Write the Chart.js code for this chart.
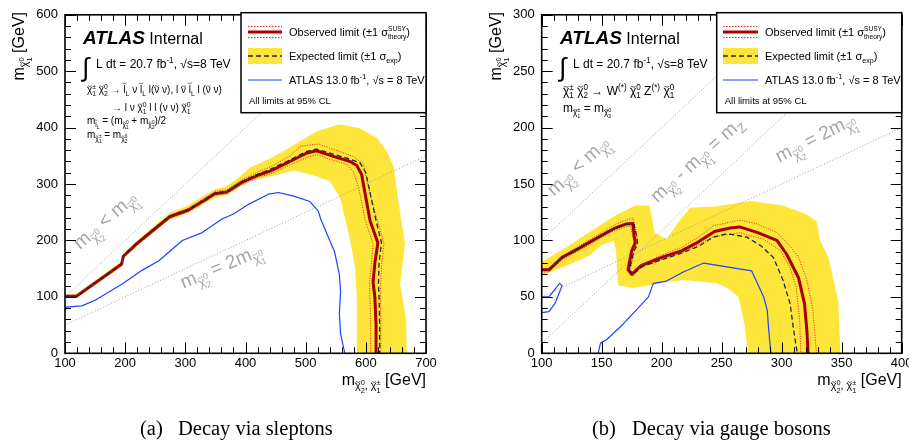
<!DOCTYPE html>
<html><head><meta charset="utf-8">
<script src="https://cdn.jsdelivr.net/npm/chart.js@4.4.1/dist/chart.umd.min.js"></script>
<style>
html,body{margin:0;padding:0;background:#fff;overflow:hidden;width:909px;height:442px}
canvas{position:absolute;top:0}
#cL{left:0}
#cR{left:450px}
</style></head><body>
<canvas id="cL" width="450" height="442"></canvas>
<canvas id="cR" width="475" height="442"></canvas>
<script>
// ---------------- DATA: (a) decay via sleptons ----------------
const slepXTicks = [100, 200, 300, 400, 500, 600, 700];
const slepYTicks = [0, 100, 200, 300, 400, 500, 600];
const slepObserved = [[100,101],[119,101],[194,158],[197,172],[219,194],[252,223],[274,242],[305,254],[330,270],[349,283],[369,286],[394,303],[424,317],[441,323],[474,340],[502,355],[518,359],[546,349],[574,340],[585,333],[593,317],[599,282],[607,235],[620,196],[615,160],[612,126],[615,100],[617,50],[617,0]];
const slepExpected = [[100,101],[119,101],[194,159],[197,173],[219,195],[252,224],[274,243],[305,255],[330,271],[349,284],[369,287],[394,305],[424,319],[441,326],[474,343],[502,358],[518,362],[546,353],[574,344],[590,338],[600,320],[607,285],[617,235],[626,196],[622,160],[621,124],[622,100],[623,50],[623,0]];
const slepTheoryUp = [[100,103],[119,103],[194,161],[197,175],[219,197],[252,226],[274,245],[305,257],[330,274],[349,287],[369,290],[394,308],[424,323],[441,330],[474,350],[491,367],[521,371],[550,360],[579,349],[596,335],[601,311],[610,270],[626,211],[630,194],[626,153],[624,106],[625,50],[625,0]];
const slepTheoryDown = [[100,99],[119,99],[194,156],[197,170],[219,191],[252,220],[274,239],[305,251],[330,267],[349,280],[369,283],[394,299],[424,313],[441,318],[474,334],[502,347],[518,352],[546,342],[568,335],[579,323],[588,294],[599,236],[612,194],[606,123],[608,59],[608,0]];
const slepBandOuter = [[100,104],[119,105],[194,163],[197,177],[219,199],[252,229],[274,249],[305,262],[330,279],[349,291],[369,296],[394,316],[407,329],[440,345],[463,358],[518,393],[556,406],[590,399],[618,382],[635,358],[646,331],[654,270],[665,194],[657,123],[667,59],[668,0]];
const slepBandInner = [[585,0],[585,94],[582,153],[574,200],[565,241],[557,276],[540,305],[518,314],[480,324],[441,314],[407,305],[394,297],[369,280],[349,276],[330,264],[305,249],[274,237],[252,218],[219,189],[197,168],[194,154],[119,98],[100,98]];
const slepAtlas13 = [[100,77],[101,82],[128,84],[150,94],[195,123],[228,147],[256,164],[295,200],[328,214],[361,238],[380,247],[405,264],[438,282],[455,285],[479,279],[507,269],[521,252],[525,238],[538,205],[548,180],[556,140],[558,110],[556,70],[558,35],[562,15],[565,0]];
const slepDiagLess = [[100,100],[600,600]];      // m(chi2) = m(chi1)
const slepDiagTwice = [[100,50],[700,350]];      // m(chi2) = 2 m(chi1)

// ---------------- DATA: (b) decay via gauge bosons ----------------
const gaugeXTicks = [100, 150, 200, 250, 300, 350, 400];
const gaugeYTicks = [0, 50, 100, 150, 200, 250, 300];
const gaugeObserved = [[100,74],[106,74],[117,85],[131,93],[144,101],[161,111],[170,114.5],[176,115],[177,104],[178,98],[175,91],[172,74],[175,70],[183,78],[200,85],[217,91],[231,99],[244,108],[257,111],[265,112],[280,107],[296,100],[304,88],[314,67],[319,44],[321,20],[322,0]];
const gaugeExpected = [[100,74],[106,74],[117,85],[131,93],[144,101],[161,111],[170,114.5],[177,114],[179,104],[180,97],[177,91],[173,74],[176,70],[184,77],[200,83],[217,89],[231,95],[243,103],[254,106],[271,103],[283,95],[293,85],[301,65],[307,44],[310,20],[313,0]];
const gaugeTheoryUp = [[100,75],[106,75],[117,86],[131,95],[144,103],[161,114],[170,118],[176,120],[179,106],[180,98],[177,91],[174,74],[176,68],[184,79],[200,87],[217,94],[232,104],[243,113],[265,118],[279,115],[296,107],[307,95],[314,85],[321,65],[326,38],[329,0]];
const gaugeTheoryDown = [[100,72],[106,72],[117,83],[131,91],[144,99],[161,109],[170,112],[174,113],[176,103],[177,98],[174,91],[171,74],[175,72],[183,76],[200,83],[217,89],[232,97],[243,103],[265,107],[285,101],[299,91],[307,76],[312,59],[315,29],[316,0]];
const gaugeBandOuter = [[100,81],[122,95],[161,122],[178,131],[190,131],[194,107],[204,101],[215,118],[224,129],[245,130],[274,135],[301,131],[321,123],[329,117],[332,100],[339,85],[347,47],[349,0]];
const gaugeBandInner = [[272,0],[269,26],[264,50],[256,57],[246,62],[218,65],[204,63],[190,60],[176,58],[164,60],[163,70],[162,90],[160,100],[150,96],[139,86],[117,76],[100,69]];
const gaugeAtlas13 = [[147,0],[149,9],[154,12],[168,26],[189,50],[193,62],[204,64],[218,72],[235,80],[275,73],[285,50],[288,38],[289,23],[291,0]];
const gaugeAtlas13Island = [[100,50],[106,50],[115,62],[117,60],[111,44],[106,37],[100,36]];
const gaugeDiagLess = [[100,100],[300,300]];     // m(chi2) = m(chi1)
const gaugeDiagZ = [[100,8.81],[391.19,300]];    // m(chi2) - m(chi1) = mZ
const gaugeDiagTwice = [[100,50],[400,200]];     // m(chi2) = 2 m(chi1)

// ---------------- helpers ----------------
const FF = '"Liberation Sans", Helvetica, Arial, sans-serif';
function fnt(size, style) { return (style ? style + ' ' : '') + size + 'px ' + FF; }
function rich(ctx, parts, x, y, size, draw, style) {
  let cx = x;
  for (const p of parts) {
    if (typeof p === 'string') {
      ctx.font = fnt(size, style);
      if (draw) ctx.fillText(p, cx, y);
      cx += ctx.measureText(p).width;
    } else if (p.s !== undefined) {
      const sz = p.size || size;
      ctx.font = fnt(sz, p.style);
      if (draw) ctx.fillText(p.s, cx, y);
      cx += ctx.measureText(p.s).width;
    } else if (p.tl !== undefined) {
      ctx.font = fnt(size, style);
      const w = ctx.measureText(p.tl).width;
      if (draw) {
        ctx.fillText(p.tl, cx, y);
        const tw = Math.max(w * 0.8, size * 0.38), h = size * 0.07;
        const x0 = cx + w / 2 - tw / 2, ty = y - size * (p.th || 0.7);
        ctx.save();
        ctx.strokeStyle = ctx.fillStyle;
        ctx.lineWidth = Math.max(0.55, size * 0.06);
        ctx.beginPath();
        ctx.moveTo(x0, ty + h);
        ctx.bezierCurveTo(x0 + tw * 0.3, ty - 2.2 * h, x0 + tw * 0.7, ty + 3.2 * h, x0 + tw, ty - h);
        ctx.stroke();
        ctx.restore();
      }
      cx += w;
    } else {
      const k = p.k || 0.68;
      let w = 0;
      if (p.sup) w = Math.max(w, rich(ctx, p.sup, cx, y - size * (p.up || 0.42), size * k, draw, style));
      if (p.sub) w = Math.max(w, rich(ctx, p.sub, cx, y + size * (p.dn || 0.28), size * k, draw, style));
      cx += w;
    }
  }
  return cx - x;
}
function drawRich(ctx, parts, x, y, size, opts) {
  opts = opts || {};
  ctx.save();
  ctx.fillStyle = opts.color || '#000';
  ctx.textAlign = 'left';
  ctx.textBaseline = 'alphabetic';
  ctx.translate(x, y);
  if (opts.rot) ctx.rotate(opts.rot * Math.PI / 180);
  let x0 = 0;
  if (opts.align === 'right') x0 = -rich(ctx, parts, 0, 0, size, false);
  rich(ctx, parts, x0, 0, size, true);
  ctx.restore();
}
const CHI = {tl: '\u03C7'}, NUT = {tl: '\u03BD'}, LT = {tl: 'l', th: 0.98};
const chi = (lo, hi) => [CHI, {sub: [lo], sup: [hi]}];
const mchi = (lo, hi) => ['m', {sub: chi(lo, hi)}];

const YELLOW = '#fee53a', OBS = '#a80000', THEO = '#e3241c', EXPC = '#1c2743', BLUE = '#2040ff', DIAG = '#9c9c9c', LBL = '#a6a6a6';

function lineDs(data, color, width, dash, order) {
  return {data, showLine: true, borderColor: color, borderWidth: width, borderDash: dash || [],
    pointRadius: 0, pointHoverRadius: 0, fill: false, tension: 0, order,
    borderJoinStyle: 'round', borderCapStyle: 'butt'};
}

function annotPlugin(o) {
  return {
    id: 'annot',
    beforeDatasetDraw(chart, args) {
      const ds = chart.data.datasets[args.index];
      if (!ds.polyFill) return;
      const {ctx, chartArea: a} = chart;
      const pts = args.meta.data;
      ctx.save();
      ctx.beginPath(); ctx.rect(a.left, a.top, a.right - a.left, a.bottom - a.top); ctx.clip();
      ctx.beginPath();
      pts.forEach((p, i) => i ? ctx.lineTo(p.x, p.y) : ctx.moveTo(p.x, p.y));
      ctx.closePath();
      ctx.fillStyle = ds.polyFill;
      ctx.fill();
      ctx.restore();
    },
    afterDatasetsDraw(chart) {
      const {ctx, chartArea: a, scales: {x, y}} = chart;
      const ox = o.offX;
      for (const L of o.diagLabels) {
        drawRich(ctx, L.parts, x.getPixelForValue(L.at[0]), y.getPixelForValue(L.at[1]), 19, {rot: L.rot, color: LBL});
      }
      ctx.save();
      ctx.strokeStyle = '#000'; ctx.lineWidth = 1;
      ctx.beginPath();
      const nx = Math.round((o.xMax - o.xMin) / o.xMinor);
      for (let i = 0; i <= nx; i++) {
        const v = o.xMin + i * o.xMinor;
        const major = o.xTicks.some(t => Math.abs(t - v) < 1e-6);
        const L = major ? 11 : 6;
        const px = Math.round(x.getPixelForValue(v)) + 0.5;
        ctx.moveTo(px, a.bottom); ctx.lineTo(px, a.bottom - L);
        ctx.moveTo(px, a.top); ctx.lineTo(px, a.top + L);
      }
      const ny = Math.round((o.yMax - o.yMin) / o.yMinor);
      for (let i = 0; i <= ny; i++) {
        const v = o.yMin + i * o.yMinor;
        const major = o.yTicks.some(t => Math.abs(t - v) < 1e-6);
        const L = major ? 11 : 6;
        const py = Math.round(y.getPixelForValue(v)) + 0.5;
        ctx.moveTo(a.left, py); ctx.lineTo(a.left + L, py);
        ctx.moveTo(a.right, py); ctx.lineTo(a.right - L, py);
      }
      ctx.stroke();
      ctx.lineWidth = 1.6;
      ctx.strokeRect(a.left, a.top, a.right - a.left, a.bottom - a.top);
      ctx.restore();

      const lb = o.legend;
      ctx.save();
      ctx.fillStyle = '#fff';
      ctx.fillRect(lb.x0 - ox, lb.y0, lb.x1 - lb.x0, lb.y1 - lb.y0);
      ctx.strokeStyle = '#000'; ctx.lineWidth = 1.5;
      ctx.strokeRect(lb.x0 - ox, lb.y0, lb.x1 - lb.x0, lb.y1 - lb.y0);
      const sx0 = lb.sx0 - ox, sx1 = lb.sx1 - ox;
      ctx.setLineDash([1.5, 1.5]); ctx.strokeStyle = THEO; ctx.lineWidth = 1;
      ctx.beginPath(); ctx.moveTo(sx0, 26.5); ctx.lineTo(sx1, 26.5); ctx.moveTo(sx0, 37.5); ctx.lineTo(sx1, 37.5); ctx.stroke();
      ctx.setLineDash([]); ctx.strokeStyle = OBS; ctx.lineWidth = 3;
      ctx.beginPath(); ctx.moveTo(sx0, 32); ctx.lineTo(sx1, 32); ctx.stroke();
      ctx.fillStyle = YELLOW; ctx.fillRect(sx0, 48, sx1 - sx0, 16);
      ctx.setLineDash([5, 3]); ctx.strokeStyle = EXPC; ctx.lineWidth = 1.3;
      ctx.beginPath(); ctx.moveTo(sx0, 56); ctx.lineTo(sx1, 56); ctx.stroke();
      ctx.setLineDash([]); ctx.strokeStyle = BLUE; ctx.lineWidth = 1.2;
      ctx.beginPath(); ctx.moveTo(sx0, 80); ctx.lineTo(sx1, 80); ctx.stroke();
      ctx.restore();
      const tx = lb.tx - ox;
      drawRich(ctx, ['Observed limit (\u00B11 \u03C3', {sub: ['theory'], sup: ['SUSY'], k: 0.6, up: 0.5, dn: 0.3}, ')'], tx, 36, 11);
      drawRich(ctx, ['Expected limit (\u00B11 \u03C3', {sub: ['exp'], k: 0.65}, ')'], tx, 60, 11);
      drawRich(ctx, ['ATLAS 13.0 fb', {sup: ['-1']}, ', \u221As = 8 TeV'], tx, 84, 11);
      drawRich(ctx, ['All limits at 95% CL'], lb.x0 + 8 - ox, 104, 9.5);

      for (const T of o.texts) {
        drawRich(ctx, T.parts, T.x - ox, T.y, T.size, {rot: T.rot, align: T.align});
      }
      ctx.save();
      ctx.fillStyle = '#000';
      ctx.font = '20.5px "Liberation Serif", "Times New Roman", serif';
      ctx.fillText(o.capA, o.capX - ox, 435);
      ctx.fillText(o.capB, o.capX2 - ox, 435);
      ctx.restore();
    }
  };
}

function makePanel(id, o) {
  const datasets = [
    {data: o.bandOuter.concat(o.bandInner), showLine: false, pointRadius: 0, pointHoverRadius: 0, polyFill: YELLOW, order: 10},
    ...o.diagonals.map(d => lineDs(d, DIAG, 1, [1, 2], 9)),
    lineDs(o.observed, OBS, 3, [], 6),
    lineDs(o.theoryUp, THEO, 1, [1, 1.5], 5),
    lineDs(o.theoryDown, THEO, 1, [1, 1.5], 5),
    lineDs(o.expected, EXPC, 1.3, [5, 3], 4),
    ...o.atlas13.map(d => lineDs(d, BLUE, 1.2, [], 3))
  ];
  const tickFont = {family: 'Liberation Sans', size: 13};
  return new Chart(document.getElementById(id), {
    type: 'scatter',
    data: {datasets},
    options: {
      responsive: false, animation: false, devicePixelRatio: 1,
      layout: {autoPadding: false, padding: {left: 0, top: 12.7, right: o.padRight, bottom: 58.7}},
      plugins: {legend: {display: false}, tooltip: {enabled: false}},
      scales: {
        x: {
          type: 'linear', min: o.xMin, max: o.xMax,
          afterBuildTicks: s => { s.ticks = o.xTicks.map(v => ({value: v})); },
          ticks: {font: tickFont, color: '#000', padding: 2, maxRotation: 0, autoSkip: false, callback: v => String(v)},
          grid: {display: false, drawTicks: false}, border: {display: false},
          afterFit: s => { s.height = 30; }
        },
        y: {
          type: 'linear', min: o.yMin, max: o.yMax,
          afterBuildTicks: s => { s.ticks = o.yTicks.map(v => ({value: v})); },
          ticks: {font: tickFont, color: '#000', padding: 7, autoSkip: false, callback: v => String(v)},
          grid: {display: false, drawTicks: false}, border: {display: false},
          afterFit: s => { s.width = o.yWidth; }
        }
      }
    },
    plugins: [annotPlugin(o)]
  });
}

const atlasParts = [{s: 'ATLAS', style: 'bold italic', size: 19}, {s: ' Internal', size: 16}];
const lumiParts = ['L dt = 20.7 fb', {sup: ['-1']}, ', \u221As=8 TeV'];
const yTitle = ['m', {sub: chi('1', '0')}, ' [GeV]'];
const xTitle = ['m', {sub: [...chi('2', '0'), ', ', ...chi('1', '\u00B1')]}, ' [GeV]'];
const lblLess = [...mchi('2', '0'), ' < ', ...mchi('1', '0')];
const lblTwice = [...mchi('2', '0'), ' = 2', ...mchi('1', '0')];
const lblZ = [...mchi('2', '0'), ' - ', ...mchi('1', '0'), ' = m', {sub: ['Z']}];

makePanel('cL', {
  offX: 0, xMin: 100, xMax: 700, yMin: 0, yMax: 600, xMinor: 20, yMinor: 20,
  xTicks: slepXTicks, yTicks: slepYTicks, yWidth: 65, padRight: 24,
  bandOuter: slepBandOuter, bandInner: slepBandInner,
  diagonals: [slepDiagLess, slepDiagTwice],
  observed: slepObserved, expected: slepExpected, theoryUp: slepTheoryUp, theoryDown: slepTheoryDown,
  atlas13: [slepAtlas13],
  diagLabels: [
    {parts: lblLess, at: [125, 183], rot: -41},
    {parts: lblTwice, at: [297, 114.5], rot: -23}
  ],
  legend: {x0: 241, y0: 12.7, x1: 426, y1: 112.7, sx0: 248, sx1: 282, tx: 289},
  texts: [
    {parts: atlasParts, x: 83, y: 44, size: 16},
    {parts: [{s: '\u222B', size: 26}], x: 82, y: 76, size: 26},
    {parts: lumiParts, x: 96, y: 68, size: 12},
    {parts: [...chi('1', '\u00B1'), ' ', ...chi('2', '0'), ' \u2192 ', LT, {sub: ['L']}, ' \u03BD ', LT, {sub: ['L']}, ' l(', NUT, ' \u03BD), l ', NUT, ' ', LT, {sub: ['L']}, ' l (', NUT, ' \u03BD)'], x: 87, y: 93, size: 10},
    {parts: ['\u2192 l \u03BD ', ...chi('1', '0'), ' l l (\u03BD \u03BD) ', ...chi('1', '0')], x: 112, y: 111, size: 10},
    {parts: ['m', {sub: [LT, {sub: ['L']}]}, ' = (', ...mchi('1', '0'), ' + ', ...mchi('2', '0'), ')/2'], x: 87, y: 124, size: 10},
    {parts: [...mchi('1', '\u00B1'), ' = ', ...mchi('2', '0')], x: 87, y: 138, size: 10},
    {parts: yTitle, x: 24, y: 12, size: 16, rot: -90, align: 'right'},
    {parts: xTitle, x: 426, y: 385, size: 16, align: 'right'}
  ],
  capA: '(a)', capX: 140, capB: 'Decay via sleptons', capX2: 178
});

makePanel('cR', {
  offX: 450, xMin: 100, xMax: 400, yMin: 0, yMax: 300, xMinor: 10, yMinor: 10,
  xTicks: gaugeXTicks, yTicks: gaugeYTicks, yWidth: 91.7, padRight: 23.3,
  bandOuter: gaugeBandOuter, bandInner: gaugeBandInner,
  diagonals: [gaugeDiagLess, gaugeDiagZ, gaugeDiagTwice],
  observed: gaugeObserved, expected: gaugeExpected, theoryUp: gaugeTheoryUp, theoryDown: gaugeTheoryDown,
  atlas13: [gaugeAtlas13, gaugeAtlas13Island],
  diagLabels: [
    {parts: lblLess, at: [110.3, 138.8], rot: -43},
    {parts: lblZ, at: [196.3, 133], rot: -42},
    {parts: lblTwice, at: [298, 168.8], rot: -27}
  ],
  legend: {x0: 716.7, y0: 12.7, x1: 901.7, y1: 112.7, sx0: 723, sx1: 758, tx: 765},
  texts: [
    {parts: atlasParts, x: 560, y: 44, size: 16},
    {parts: [{s: '\u222B', size: 26}], x: 559, y: 76, size: 26},
    {parts: lumiParts, x: 573, y: 68, size: 12},
    {parts: [...chi('1', '\u00B1'), ' ', ...chi('2', '0'), ' \u2192 W', {sup: ['(*)']}, ' ', ...chi('1', '0'), ' Z', {sup: ['(*)']}, ' ', ...chi('1', '0')], x: 563, y: 95, size: 12},
    {parts: [...mchi('1', '\u00B1'), ' = ', ...mchi('2', '0')], x: 563, y: 112, size: 12},
    {parts: yTitle, x: 501, y: 12, size: 16, rot: -90, align: 'right'},
    {parts: xTitle, x: 901.7, y: 385, size: 16, align: 'right'}
  ],
  capA: '(b)', capX: 592, capB: 'Decay via gauge bosons', capX2: 632
});
</script>
</body></html>
